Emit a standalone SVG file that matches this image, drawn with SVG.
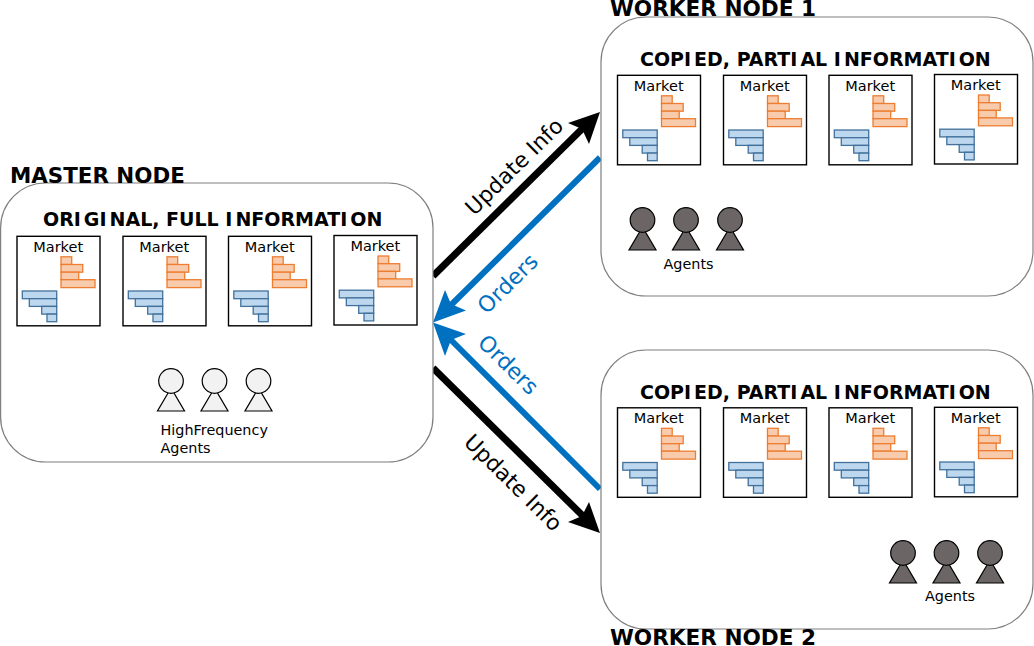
<svg xmlns="http://www.w3.org/2000/svg" width="1034" height="646" viewBox="0 0 1034 646">
<style>
text{font-family:"DejaVu Sans",sans-serif;fill:#000}
.node{fill:#fff;stroke:#7f7f7f;stroke-width:1.2}
.head{font-weight:700;font-size:21.6px}
.sub{font-weight:700;font-size:19px}
.m{font-size:14.5px;text-anchor:middle}
.l{font-size:14.4px}
.box{fill:#fff;stroke:#000;stroke-width:1.4}
.o{fill:#f8cbad;stroke:#ed7d31;stroke-width:1.3}
.b{fill:#bdd7ee;stroke:#41719c;stroke-width:1.3}
.ag{stroke:#000;stroke-width:1.2}
.hf{fill:#f2f2f2}
.dk{fill:#6b6565}
.blk{stroke:#000;stroke-width:7;fill:none}
.blu{stroke:#0070c0;stroke-width:6;fill:none}
.lab{font-size:21.8px}
.ord{font-size:22px;fill:#0070c0}
</style>
<defs>
<g id="mk">
<rect class="box" x="0" y="0" width="83" height="89.5"/>
<rect class="o" x="44" y="20.5" width="10.7" height="7.7"/>
<rect class="o" x="44" y="28.2" width="21.7" height="7.7"/>
<rect class="o" x="44" y="35.9" width="17.7" height="7.5"/>
<rect class="o" x="44" y="43.4" width="34" height="7.9"/>
<rect class="b" x="5.3" y="54.7" width="34.4" height="7.7"/>
<rect class="b" x="12.3" y="62.4" width="27.4" height="7.7"/>
<rect class="b" x="24.7" y="70.1" width="15" height="7.7"/>
<rect class="b" x="30" y="77.8" width="9.7" height="7.6"/>
</g>
<g id="agent">
<path d="M0,7 L-13.5,30 H13.5 Z"/>
<circle cx="0" cy="0" r="12.3"/>
</g>
</defs>

<g id="connectors">
<path class="blk" d="M433,276 L584,127"/>
<polygon points="600,112 589,144 582,129 568,123" fill="#000"/>
<path class="blu" d="M600,157.5 L449,307"/>
<polygon points="433,322.5 445,290 451,304 466,310.5" fill="#0070c0"/>
<path class="blu" d="M600,489 L449,338"/>
<polygon points="433,322.5 466,334 451,340 445,356" fill="#0070c0"/>
<path class="blk" d="M433,368 L584,517"/>
<polygon points="600,533 568,522 582,516 589,502" fill="#000"/>
</g>

<g id="master-node">
<rect class="node" x="0.6" y="183" width="432.4" height="279" rx="45"/>
<text class="head" x="10" y="183" style="font-size:21.4px">MASTER NODE</text>
<text class="sub" x="43" y="226">ORI<tspan dx="3">G</tspan>I<tspan dx="3">NAL, FULL I</tspan><tspan dx="3">NFORMATI</tspan><tspan dx="3">ON</tspan></text>
<g id="master-market-1"><use href="#mk" x="17" y="236.3"/><text class="m" x="58.200" y="251.700">Market</text></g>
<g id="master-market-2"><use href="#mk" x="123" y="236.3"/><text class="m" x="164.200" y="251.700">Market</text></g>
<g id="master-market-3"><use href="#mk" x="228.500" y="236.3"/><text class="m" x="269.700" y="251.700">Market</text></g>
<g id="master-market-4"><use href="#mk" x="334" y="235.500"/><text class="m" x="375.300" y="250.900">Market</text></g>
<g id="master-agents" class="ag hf">
<use href="#agent" x="171" y="381"/><use href="#agent" x="214.500" y="381"/><use href="#agent" x="258.500" y="381"/>
</g>
<text class="l" x="160.500" y="434.500">HighFrequency</text>
<text class="l" x="160.500" y="452.500">Agents</text>
</g>

<g id="worker-node-1">
<rect class="node" x="601" y="17" width="432" height="279" rx="45"/>
<text class="head" x="610" y="16">WORKER NODE 1</text>
<text class="sub" x="640" y="66">COPI<tspan dx="3">ED, PARTI</tspan><tspan dx="3">AL I</tspan><tspan dx="3">NFORMATI</tspan><tspan dx="3">ON</tspan></text>
<g id="w1-market-1"><use href="#mk" x="617.500" y="75.300"/><text class="m" x="658.700" y="90.700">Market</text></g>
<g id="w1-market-2"><use href="#mk" x="723.500" y="75.300"/><text class="m" x="764.700" y="90.700">Market</text></g>
<g id="w1-market-3"><use href="#mk" x="829" y="75.300"/><text class="m" x="870.200" y="90.700">Market</text></g>
<g id="w1-market-4"><use href="#mk" x="934.500" y="74.500"/><text class="m" x="975.700" y="89.900">Market</text></g>
<g id="w1-agents" class="ag dk">
<use href="#agent" x="642.500" y="220"/><use href="#agent" x="686" y="220"/><use href="#agent" x="730" y="220"/>
</g>
<text class="l" x="663.500" y="268.500">Agents</text>
</g>

<g id="worker-node-2">
<rect class="node" x="601" y="350" width="432" height="279" rx="45"/>
<text class="head" x="610" y="645">WORKER NODE 2</text>
<text class="sub" x="640" y="399">COPI<tspan dx="3">ED, PARTI</tspan><tspan dx="3">AL I</tspan><tspan dx="3">NFORMATI</tspan><tspan dx="3">ON</tspan></text>
<g id="w2-market-1"><use href="#mk" x="617.500" y="407.800"/><text class="m" x="658.700" y="423.200">Market</text></g>
<g id="w2-market-2"><use href="#mk" x="723.500" y="407.800"/><text class="m" x="764.700" y="423.200">Market</text></g>
<g id="w2-market-3"><use href="#mk" x="829" y="407.800"/><text class="m" x="870.200" y="423.200">Market</text></g>
<g id="w2-market-4"><use href="#mk" x="934.500" y="407.300"/><text class="m" x="975.700" y="422.700">Market</text></g>
<g id="w2-agents" class="ag dk">
<use href="#agent" x="903" y="553"/><use href="#agent" x="946.500" y="553"/><use href="#agent" x="990" y="553"/>
</g>
<text class="l" x="925" y="601">Agents</text>
</g>

<g id="connector-labels">
<text class="lab" text-anchor="middle" transform="translate(519.500,172) rotate(-44.500)">Update Info</text>
<text class="ord" text-anchor="middle" transform="translate(513,289) rotate(-44.500)">Orders</text>
<text class="ord" text-anchor="middle" transform="translate(503,370) rotate(44.500)">Orders</text>
<text class="lab" text-anchor="middle" transform="translate(508,488) rotate(44.500)">Update Info</text>
</g>
</svg>
